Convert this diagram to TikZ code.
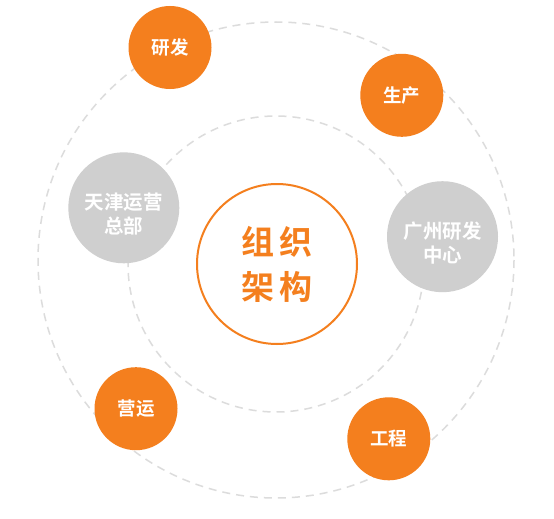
\documentclass[tikz,border=0pt]{standalone}
\usepackage{fontspec}
\newfontfamily\cjk{Noto Sans CJK SC}[BoldFont={Noto Sans CJK SC Bold}]
\definecolor{orng}{HTML}{F47F1E}
\definecolor{gry}{HTML}{CFCFCF}
\definecolor{dashgry}{HTML}{DCDCDC}
\begin{document}
\begin{tikzpicture}[x=1pt,y=-1pt,
  orbit/.style={draw=dashgry,line width=1.5pt,dash pattern=on 8pt off 6pt},
  ocirc/.style={circle,fill=orng,minimum size=83pt,inner sep=0pt,text=white,font=\cjk\bfseries\fontsize{18.5}{22}\selectfont},
  gcirc/.style={circle,fill=gry,minimum size=111pt,inner sep=0pt},
  gtext/.style={text=white,align=center,inner sep=0pt,yshift=-6.5pt,font=\cjk\bfseries\fontsize{19.5}{23.8}\selectfont},
  core/.style={circle,draw=orng,line width=2pt,fill=white,minimum size=160pt,inner sep=0pt,text=orng,align=center,font=\cjk\bfseries\fontsize{33}{45}\selectfont}]
\useasboundingbox (0,0) rectangle (554,519);
\fill[white] (0,0) rectangle (554,519);
\draw[orbit] (276,260) circle[radius=238];
\draw[orbit] (276,264) circle[radius=148];
\node[core] (center) at (277,264) {组\hspace{6pt}织\\[0pt]架\hspace{6pt}构};
\node[gcirc,label={[gtext]center:天津运营\\总部}] (tj) at (123.8,207.8) {};
\node[gcirc,label={[gtext]center:广州研发\\中心}] (gz) at (442.5,236.7) {};
\node[ocirc] (yf) at (170,47.5) {研发};
\node[ocirc] (sc) at (401.8,95.3) {生产};
\node[ocirc] (yy) at (136,408.7) {营运};
\node[ocirc] (gc) at (388.8,438.8) {工程};
\end{tikzpicture}
\end{document}
